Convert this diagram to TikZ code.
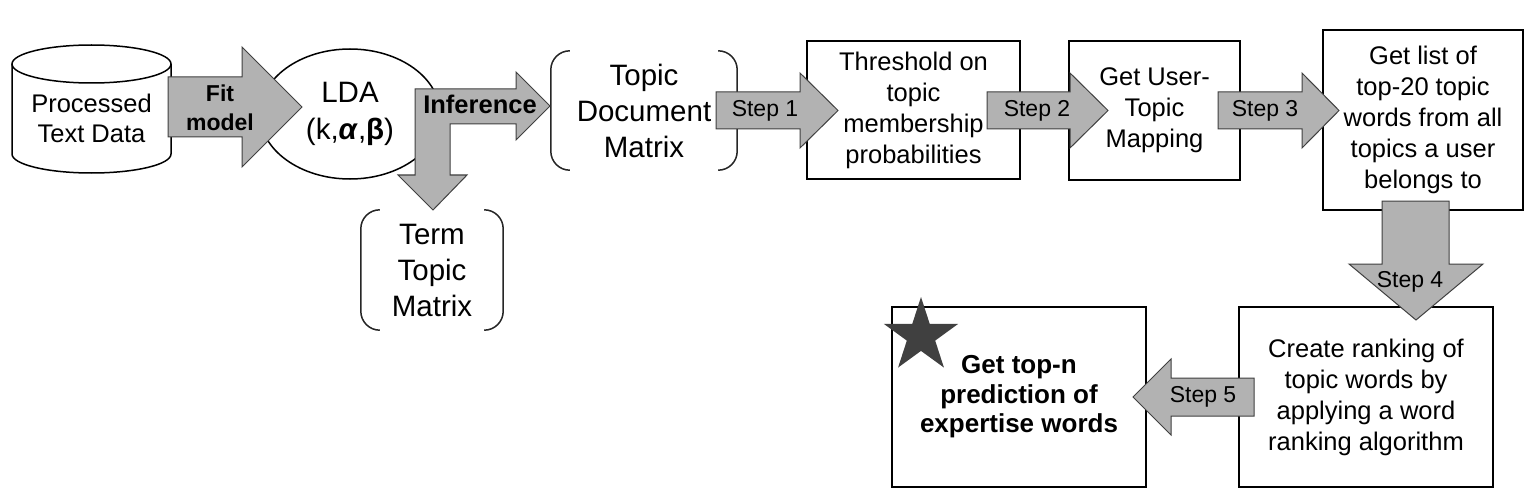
\documentclass[tikz,border=0pt]{standalone}
\usepackage{fontspec}
\setmainfont{Liberation Sans}
\usepackage{xcolor}
\usepackage{tikz}
\usetikzlibrary{shapes.geometric}
\usetikzlibrary{positioning}

\definecolor{flechagris}{RGB}{178,178,178}
\definecolor{bordegris}{RGB}{64,64,64}
\definecolor{estrella}{RGB}{64,64,64}

\begin{document}
\begin{tikzpicture}[x=1pt, y=-1pt, every node/.style={align=center}]
\tikzstyle{caja}=[
    draw=black,
    line width=2pt,
    inner sep=0pt,
    font=\fontsize{25.5}{31}\selectfont
]
\tikzstyle{matriz}=[inner sep=0pt, font=\fontsize{29.5}{36}\selectfont]
\tikzstyle{corchete}=[draw=black!85, line width=1.5pt, rounded corners=19pt]
\tikzstyle{flecha}=[draw=bordegris, fill=flechagris, line width=1pt, line join=miter]
\tikzstyle{paso}=[font=\fontsize{23}{28}\selectfont]
\tikzstyle{negrita}=[font=\bfseries\fontsize{23}{29}\selectfont]

% Fondo
\path[fill=white, use as bounding box] (0,0) rectangle (1537,500);

% Cilindro
\draw[line width=1.5pt] (12,64) -- (12,154) arc[start angle=180, end angle=0, x radius=79.5, y radius=19] -- (171,64);
\draw[line width=1.5pt] (91.5,64) ellipse [x radius=79.5, y radius=19];
\node[font=\fontsize{25.5}{30}\selectfont] (datos) at (91.5,118) {Processed\\Text Data};

% Nodos
\node[ellipse, draw, line width=1.5pt, inner sep=0pt, minimum width=180, minimum height=130,
      font=\fontsize{29.5}{37}\selectfont] (lda) at (350,114) {LDA\\(k,\textbf{\textit{α}},\textbf{β})};
\node[matriz, minimum width=186, minimum height=119] (tdm) at (644,110.5) {Topic\\Document\\Matrix};
\node[matriz, minimum width=142, minimum height=120] (ttm) at (432,270) {Term\\Topic\\Matrix};
\node[caja, minimum width=213, minimum height=138] (umbral) at (913.5,110) {Threshold on\\topic\\membership\\probabilities};
\node[caja, minimum width=171, minimum height=139] (mapeo) at (1154.5,110.5) {Get User-\\Topic\\Mapping};
\node[caja, minimum width=200, minimum height=180] (lista) at (1423,120) {Get list of\\top-20 topic\\words from all\\topics a user\\belongs to};
\node[caja, minimum width=254, minimum height=180] (ranking) at (1366,397) {Create ranking of\\topic words by\\applying a word\\ranking algorithm};
\node[caja, minimum width=254, minimum height=180,
      font=\bfseries\fontsize{26}{29.5}\selectfont] (pred) at (1019,397) {Get top-n\\prediction of\\expertise words};
\node[star, star points=5, star point ratio=2.618, fill=estrella, inner sep=0pt, minimum size=78] (estrella) at (921,336) {};

% Corchetes
\draw[corchete] ([xshift=19pt]tdm.north west) -- (tdm.north west) -- (tdm.south west) -- ([xshift=19pt]tdm.south west);
\draw[corchete] ([xshift=-19pt]tdm.north east) -- (tdm.north east) -- (tdm.south east) -- ([xshift=-19pt]tdm.south east);
\draw[corchete] ([xshift=19pt]ttm.north west) -- (ttm.north west) -- (ttm.south west) -- ([xshift=19pt]ttm.south west);
\draw[corchete] ([xshift=-19pt]ttm.north east) -- (ttm.north east) -- (ttm.south east) -- ([xshift=-19pt]ttm.south east);

% Flechas
\draw[flecha] (168,77) -- (242,77) -- (242,47) -- (302,107) -- (242,167) -- (242,137) -- (168,137) -- cycle;
\node[negrita] (ajuste) at (220,107.5) {Fit\\model};

\draw[flecha] (415,89) -- (516,89) -- (516,72) -- (550,106) -- (516,140) -- (516,124) -- (450,124)
    -- (450,175) -- (467,175) -- (433,210) -- (398,175) -- (415,175) -- cycle;
\node[font=\bfseries\fontsize{25.5}{30}\selectfont] (inferencia) at (480,104) {Inference};

\draw[flecha] (716,92) -- (800,92) -- (800,73) -- (838,110.5) -- (800,148) -- (800,129) -- (716,129) -- cycle;
\node[paso] (paso1) at (765,110.5) {Step 1};

\draw[flecha] (987,92) -- (1070,92) -- (1070,73) -- (1108,110.5) -- (1070,148) -- (1070,129) -- (987,129) -- cycle;
\node[paso] (paso2) at (1037,110.5) {Step 2};

\draw[flecha] (1218,92) -- (1302,92) -- (1302,73) -- (1339,110.5) -- (1302,148) -- (1302,129) -- (1218,129) -- cycle;
\node[paso] (paso3) at (1265,110.5) {Step 3};

\draw[flecha] (1382,201) -- (1449,201) -- (1449,264) -- (1483,264) -- (1416,320) -- (1349,264) -- (1382,264) -- cycle;
\node[paso] (paso4) at (1410,282) {Step 4};

\draw[flecha] (1254,378) -- (1171,378) -- (1171,359) -- (1133,397) -- (1171,435) -- (1171,416) -- (1254,416) -- cycle;
\node[paso] (paso5) at (1203,397) {Step 5};

\end{tikzpicture}
\end{document}
